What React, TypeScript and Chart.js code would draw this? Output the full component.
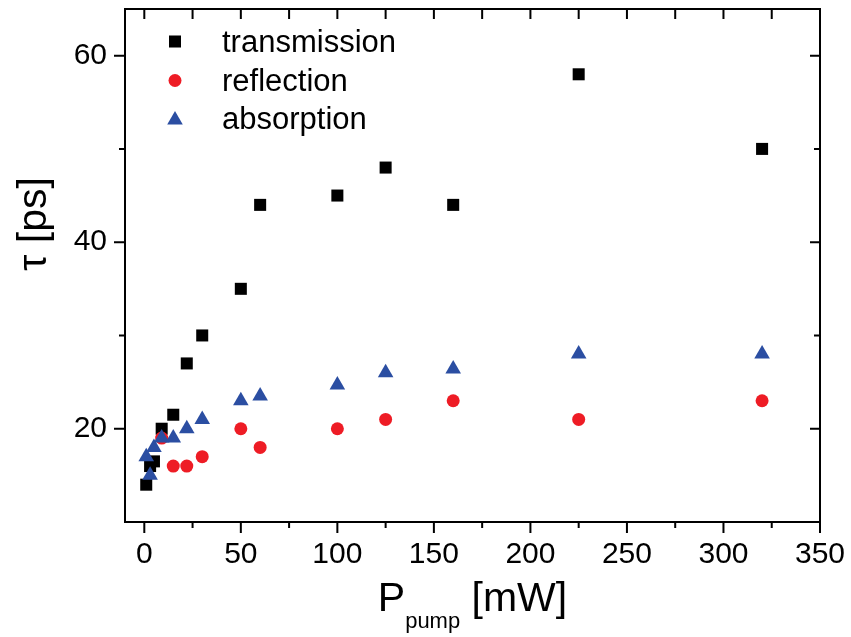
import React, { useEffect, useRef } from "react";
import { Chart, registerables } from "chart.js";

Chart.register(...registerables);

// ---------- data ----------
const seriesNames = ["transmission", "reflection", "absorption"];
const seriesColors = ["#000000", "#ee1c25", "#2b4ea2"];
const seriesStyles = ["rect", "circle", "triangle"];

const transmissionX = [1, 3, 5, 9, 15, 22, 30, 50, 60, 100, 125, 160, 225, 320];
const transmissionY = [14, 16, 16.5, 20, 21.5, 27, 30, 35, 44, 45, 48, 44, 58, 50];

const reflectionX = [9, 15, 22, 30, 50, 60, 100, 125, 160, 225, 320];
const reflectionY = [19, 16, 16, 17, 20, 18, 20, 21, 23, 21, 23];

const absorptionX = [1, 3, 5, 9, 15, 22, 30, 50, 60, 100, 125, 160, 225, 320];
const absorptionY = [17, 15, 18, 19, 19, 20, 21, 23, 23.5, 24.7, 26, 26.4, 28, 28];

const xTicks = [0, 50, 100, 150, 200, 250, 300, 350];
const xMinorTicks = [25, 75, 125, 175, 225, 275, 325];
const yTicks = [20, 40, 60];
const yMinorTicks = [30, 50];

const xMin = -10;
const xMax = 350;
const yMin = 10;
const yMax = 65;

const FONT = "'Liberation Sans', Arial, sans-serif";

function pts(xs: number[], ys: number[]) {
  return xs.map((x, i) => ({ x, y: ys[i] }));
}

function drawMarker(ctx: CanvasRenderingContext2D, style: string, x: number, y: number, r: number) {
  ctx.beginPath();
  if (style === "rect") {
    const s = Math.SQRT1_2 * r;
    ctx.rect(x - s, y - s, 2 * s, 2 * s);
  } else if (style === "circle") {
    ctx.arc(x, y, r, 0, Math.PI * 2);
  } else {
    ctx.moveTo(x, y - r);
    ctx.lineTo(x + r * Math.sin((2 * Math.PI) / 3), y - r * Math.cos((2 * Math.PI) / 3));
    ctx.lineTo(x + r * Math.sin((4 * Math.PI) / 3), y - r * Math.cos((4 * Math.PI) / 3));
    ctx.closePath();
  }
  ctx.fill();
}

const markerRadius = [8.5, 6.5, 9];

const decorPlugin = {
  id: "decor",
  afterDraw(chart: any) {
    const { ctx, chartArea: a, scales } = chart;
    const xs = scales.x;
    const ys = scales.y;
    ctx.save();
    // frame
    ctx.strokeStyle = "#000";
    ctx.lineWidth = 2;
    ctx.lineCap = "butt";
    ctx.strokeRect(a.left, a.top, a.right - a.left, a.bottom - a.top);
    ctx.beginPath();
    const seg = (x1: number, y1: number, x2: number, y2: number) => {
      ctx.moveTo(x1, y1);
      ctx.lineTo(x2, y2);
    };
    xTicks.forEach((v) => {
      const p = xs.getPixelForValue(v);
      seg(p, a.bottom, p, a.bottom + 11);
      seg(p, a.top, p, a.top + 10);
    });
    xMinorTicks.forEach((v) => {
      const p = xs.getPixelForValue(v);
      seg(p, a.bottom, p, a.bottom + 6);
      seg(p, a.top, p, a.top + 10);
    });
    yTicks.forEach((v) => {
      const p = ys.getPixelForValue(v);
      seg(a.left - 11, p, a.left, p);
      seg(a.right - 10, p, a.right, p);
    });
    yMinorTicks.forEach((v) => {
      const p = ys.getPixelForValue(v);
      seg(a.left - 6, p, a.left, p);
      seg(a.right - 6, p, a.right, p);
    });
    ctx.stroke();

    // legend
    const legendX = a.left + 50;
    const legendTextX = a.left + 97;
    const rowMarkerY = [41.5, 80.5, 120];
    const rowBaseY = [52, 90.7, 129.4];
    chart.data.datasets.forEach((ds: any, i: number) => {
      ctx.fillStyle = ds.pointBackgroundColor;
      drawMarker(ctx, ds.pointStyle, legendX, rowMarkerY[i], ds.pointRadius);
      ctx.fillStyle = "#000";
      ctx.font = `31px ${FONT}`;
      ctx.textAlign = "left";
      ctx.textBaseline = "alphabetic";
      ctx.fillText(ds.label, legendTextX, rowBaseY[i]);
    });

    // x title: P_pump [mW]
    ctx.fillStyle = "#000";
    ctx.textBaseline = "alphabetic";
    const bigFont = `41px ${FONT}`;
    const subFont = `22px ${FONT}`;
    ctx.font = bigFont;
    const wP = ctx.measureText("P").width;
    const wRest = ctx.measureText(" [mW]").width;
    ctx.font = subFont;
    const wSub = ctx.measureText("pump").width;
    const total = wP + wSub + wRest;
    let cx = (a.left + a.right) / 2 - total / 2;
    const baseY = 611;
    ctx.textAlign = "left";
    ctx.font = bigFont;
    ctx.fillText("P", cx, baseY);
    cx += wP;
    ctx.font = subFont;
    ctx.fillText("pump", cx, baseY + 17);
    cx += wSub;
    ctx.font = bigFont;
    ctx.fillText(" [mW]", cx, baseY);

    // y title
    ctx.save();
    ctx.translate(46, 224);
    ctx.rotate(-Math.PI / 2);
    ctx.font = bigFont;
    ctx.textAlign = "center";
    ctx.textBaseline = "alphabetic";
    ctx.fillText("\u03c4 [ps]", 0, 0);
    ctx.restore();

    ctx.restore();
  },
};

function zeroPad(scale: any) {
  scale.paddingTop = 0;
  scale.paddingBottom = 0;
  scale.paddingLeft = 0;
  scale.paddingRight = 0;
}

export default function App() {
  const ref = useRef<HTMLCanvasElement | null>(null);

  useEffect(() => {
    document.body.style.margin = "0";
    const canvas = ref.current;
    if (!canvas) return;
    const xsArr = [transmissionX, reflectionX, absorptionX];
    const ysArr = [transmissionY, reflectionY, absorptionY];
    const orders = [3, 2, 1];
    const chart = new Chart(canvas, {
      type: "scatter",
      data: {
        datasets: seriesNames.map((name, i) => ({
          label: name,
          data: pts(xsArr[i], ysArr[i]),
          pointStyle: seriesStyles[i] as any,
          pointRadius: markerRadius[i],
          pointHoverRadius: markerRadius[i],
          pointBackgroundColor: seriesColors[i],
          pointBorderColor: seriesColors[i],
          pointBorderWidth: 0,
          backgroundColor: seriesColors[i],
          borderColor: seriesColors[i],
          showLine: false,
          order: orders[i],
        })),
      },
      options: {
        responsive: false,
        animation: false,
        devicePixelRatio: 1,
        layout: { padding: { left: 0, top: 8, right: 31, bottom: 0 } },
        plugins: {
          legend: { display: false },
          tooltip: { enabled: false },
          title: { display: false },
        },
        scales: {
          x: {
            type: "linear",
            min: xMin,
            max: xMax,
            grid: { display: false, drawTicks: false },
            border: { display: false },
            afterBuildTicks: (scale: any) => {
              scale.ticks = xTicks.map((v) => ({ value: v }));
            },
            afterFit: (scale: any) => {
              scale.height = 115;
              zeroPad(scale);
            },
            ticks: {
              padding: 15,
              color: "#000",
              font: { family: FONT, size: 30 },
              maxRotation: 0,
              autoSkip: false,
              callback: (v: any) => String(v),
            },
          },
          y: {
            type: "linear",
            min: yMin,
            max: yMax,
            grid: { display: false, drawTicks: false },
            border: { display: false },
            afterBuildTicks: (scale: any) => {
              scale.ticks = yTicks.map((v) => ({ value: v }));
            },
            afterFit: (scale: any) => {
              scale.width = 125;
              zeroPad(scale);
            },
            ticks: {
              padding: 18,
              color: "#000",
              font: { family: FONT, size: 30 },
              autoSkip: false,
              callback: (v: any) => String(v),
            },
          },
        },
      },
      plugins: [decorPlugin],
    });
    return () => chart.destroy();
  }, []);

  return (
    <div style={{ width: 851, height: 637 }}>
      <canvas ref={ref} width={851} height={637} style={{ display: "block" }} />
    </div>
  );
}
